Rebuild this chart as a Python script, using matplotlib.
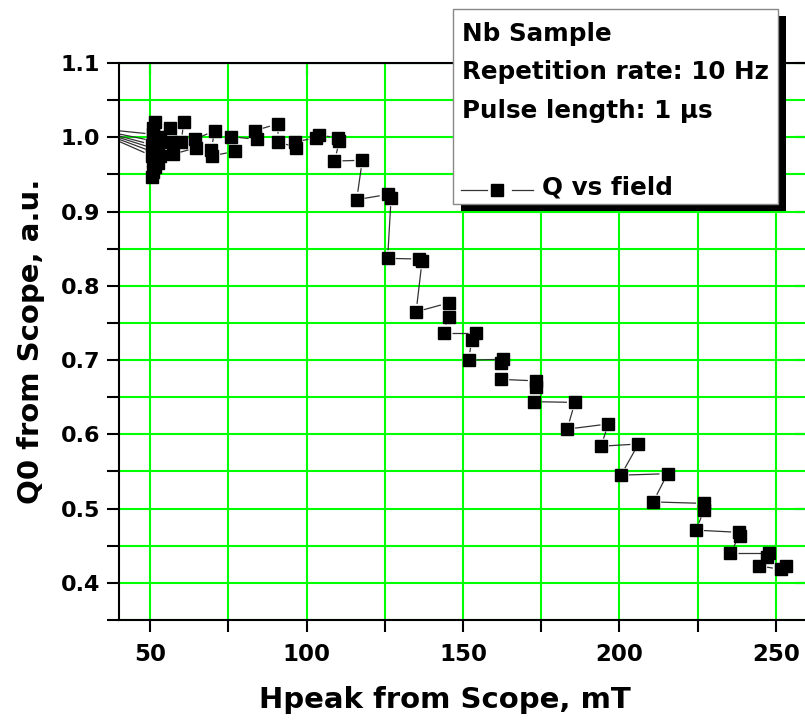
import numpy as np
import matplotlib
matplotlib.use("Agg")
import matplotlib.pyplot as plt
from matplotlib.patches import Rectangle
from matplotlib.lines import Line2D
from matplotlib.collections import LineCollection
from matplotlib.ticker import MultipleLocator, FormatStrFormatter

plt.rcParams['font.family'] = ['DejaVu Sans']

# Q vs field, in measurement order (x < 40 points sit off the left edge)
hpeak = [51.5, 51.0, 51.0, 30.0, 51.0, 50.5, 30.0, 51.0, 51.0, 30.0,
         50.5, 51.0, 51.5, 51.0, 50.5, 52.5, 53.0, 52.5, 53.0, 56.2,
         60.7, 59.9, 56.7, 57.2, 64.7, 64.2, 70.6, 69.5, 69.8, 77.0,
         75.9, 84.0, 83.5, 90.7, 91.0, 96.6, 96.2, 103.1, 104.0, 110.0,
         110.5, 108.9, 117.8, 116.0, 125.9, 127.0, 125.9, 136.0, 136.9, 135.0,
         145.4, 145.4, 143.8, 154.0, 152.8, 151.8, 162.7, 162.2, 162.2, 173.3,
         173.3, 172.6, 185.8, 183.3, 196.5, 194.1, 206.1, 200.5, 215.4, 210.8,
         227.1, 227.1, 224.5, 238.3, 238.5, 235.3, 248.0, 247.2, 244.7, 251.6,
         253.2]
q0 = [1.021, 1.012, 1.004, 1.013, 0.995, 0.990, 1.013, 0.985, 0.980, 1.013,
      0.975, 0.968, 0.960, 0.953, 0.947, 0.965, 0.975, 0.990, 1.000, 1.013,
      1.021, 0.993, 0.993, 0.977, 0.986, 0.997, 1.009, 0.983, 0.975, 0.981,
      1.001, 0.997, 1.009, 1.018, 0.994, 0.986, 0.994, 0.999, 1.003, 0.999,
      0.995, 0.968, 0.969, 0.916, 0.923, 0.918, 0.837, 0.836, 0.833, 0.765,
      0.777, 0.758, 0.737, 0.737, 0.727, 0.700, 0.701, 0.696, 0.674, 0.672,
      0.664, 0.644, 0.643, 0.607, 0.614, 0.584, 0.587, 0.545, 0.547, 0.509,
      0.507, 0.498, 0.471, 0.468, 0.463, 0.440, 0.440, 0.435, 0.423, 0.418,
      0.423]

legend_lines = ['Nb Sample', 'Repetition rate: 10 Hz', 'Pulse length: 1 \u03bcs']
series_name = 'Q vs field'

W, H = 805, 726
GREEN = '#00ff00'


def fx(x):
    return x / W


def fy(y):
    return 1 - y / H


fig = plt.figure(figsize=(W / 100, H / 100), dpi=100)
ax = fig.add_axes([fx(119), fy(620), 688 / W, 557 / H])
ax.set_xlim(40, 260)
ax.set_ylim(0.35, 1.1)

ax.xaxis.set_major_locator(MultipleLocator(50))
ax.xaxis.set_minor_locator(MultipleLocator(25))
ax.yaxis.set_major_locator(MultipleLocator(0.1))
ax.yaxis.set_minor_locator(MultipleLocator(0.05))
ax.yaxis.set_major_formatter(FormatStrFormatter('%.1f'))
ax.grid(which='both', color=GREEN, lw=1.5)
ax.set_axisbelow(True)

ax.tick_params(which='both', direction='out', length=8.5, width=1.5)
ax.tick_params(axis='x', which='major', pad=8, labelsize=16.5)
ax.tick_params(axis='y', which='major', pad=5, labelsize=16)
for lab in ax.get_xticklabels() + ax.get_yticklabels():
    lab.set_fontweight('bold')
for sp in ax.spines.values():
    sp.set_linewidth(1.5)

# inward ticks on top and right
top = ax.secondary_xaxis('top')
top.xaxis.set_major_locator(MultipleLocator(50))
top.tick_params(direction='in', length=8.5, width=1.5, labeltop=False)
right = ax.secondary_yaxis('right')
right.yaxis.set_major_locator(MultipleLocator(0.1))
right.tick_params(direction='in', length=8.5, width=1.5, labelright=False)

ax.set_xlabel('Hpeak from Scope, mT', fontsize=21, fontweight='bold')
ax.xaxis.set_label_coords(0.474, -0.118)
ax.set_ylabel('Q0 from Scope, a.u.', fontsize=21, fontweight='bold', labelpad=11)

# connecting line, with small gaps at the markers
pts = ax.transData.transform(np.column_stack([hpeak, q0]))
gap = 8.0
segs = []
for p0, p1 in zip(pts[:-1], pts[1:]):
    d = p1 - p0
    L = np.hypot(*d)
    if L > 2 * gap:
        u = d / L
        segs.append(ax.transData.inverted().transform([p0 + u * gap, p1 - u * gap]))
ax.add_collection(LineCollection(segs, colors='#333333', lw=0.9, zorder=2))
ax.plot(hpeak, q0, ls='none', marker='s', ms=8, color='black', zorder=3)

# legend box with shadow
bx0, by0, bx1, by1 = 453, 9, 778, 204
fig.add_artist(Rectangle((fx(bx0 + 8), fy(by1 + 7)), (bx1 - bx0) / W, (by1 - by0) / H,
                         transform=fig.transFigure, facecolor='black', edgecolor='none', zorder=5))
fig.add_artist(Rectangle((fx(bx0), fy(by1)), (bx1 - bx0) / W, (by1 - by0) / H,
                         transform=fig.transFigure, facecolor='white', edgecolor='#888888',
                         lw=1, zorder=6))
for i, t in enumerate(legend_lines):
    fig.text(fx(462), fy(40.7 + 38.5 * i), t, fontsize=17.7, fontweight='bold',
             va='baseline', zorder=7)
fig.add_artist(Line2D([fx(461), fx(487)], [fy(190), fy(190)], transform=fig.transFigure,
                      color='#333333', lw=0.9, zorder=7))
fig.add_artist(Line2D([fx(512), fx(533)], [fy(190), fy(190)], transform=fig.transFigure,
                      color='#333333', lw=0.9, zorder=7))
fig.add_artist(Line2D([fx(497)], [fy(190)], transform=fig.transFigure, ls='none',
                      marker='s', ms=8, color='black', zorder=7))
fig.text(fx(542), fy(195), series_name, fontsize=17.7, fontweight='bold',
         va='baseline', zorder=7)

fig.savefig('out.png', dpi=100)
